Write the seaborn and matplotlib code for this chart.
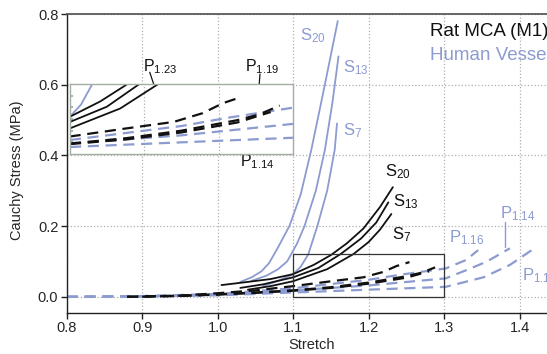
import matplotlib
matplotlib.use("Agg")
import matplotlib.pyplot as plt
import seaborn as sns
import pandas as pd

sns.set_theme(style="white")
plt.rcParams['font.family'] = ['Liberation Sans', 'DejaVu Sans']
plt.rcParams['mathtext.fontset'] = 'custom'
plt.rcParams['mathtext.rm'] = 'Liberation Sans'
plt.rcParams['mathtext.it'] = 'Liberation Sans'
plt.rcParams['mathtext.bf'] = 'Liberation Sans'

BLACK = '#111111'
BLUE = '#8c9bd0'

# ---- Human vessels, solid (S20, S13, S7)
hv_s20_x = [1.030, 1.045, 1.058, 1.068, 1.080, 1.095, 1.110, 1.124, 1.140, 1.159]
hv_s20_y = [0.042, 0.055, 0.072, 0.095, 0.140, 0.200, 0.290, 0.416, 0.580, 0.780]
hv_s13_x = [1.045, 1.065, 1.080, 1.092, 1.105, 1.115, 1.130, 1.142, 1.152, 1.160]
hv_s13_y = [0.045, 0.060, 0.078, 0.100, 0.150, 0.200, 0.300, 0.416, 0.550, 0.680]
hv_s7_x = [1.060, 1.080, 1.100, 1.110, 1.120, 1.132, 1.145, 1.155, 1.158]
hv_s7_y = [0.030, 0.045, 0.064, 0.085, 0.120, 0.200, 0.300, 0.416, 0.490]

# ---- Rat MCA, solid (S20, S13, S7)
rat_s20_x = [1.005, 1.040, 1.070, 1.100, 1.127, 1.150, 1.171, 1.193, 1.215, 1.232]
rat_s20_y = [0.033, 0.042, 0.050, 0.064, 0.090, 0.118, 0.151, 0.193, 0.254, 0.310]
rat_s13_x = [1.030, 1.060, 1.100, 1.133, 1.163, 1.190, 1.210, 1.226]
rat_s13_y = [0.025, 0.035, 0.055, 0.081, 0.121, 0.165, 0.210, 0.267]
rat_s7_x = [1.040, 1.070, 1.100, 1.145, 1.180, 1.200, 1.215, 1.230]
rat_s7_y = [0.020, 0.030, 0.044, 0.078, 0.121, 0.155, 0.190, 0.234]

# ---- Rat MCA, dashed (P1.23, P1.19, P1.14)
rat_p123_x = [0.900, 0.950, 1.000, 1.050, 1.100, 1.151, 1.193, 1.219, 1.237, 1.254]
rat_p123_y = [0.000, 0.003, 0.010, 0.018, 0.030, 0.044, 0.055, 0.070, 0.087, 0.098]
rat_p119_x = [0.880, 0.950, 1.000, 1.050, 1.100, 1.150, 1.200, 1.250, 1.270, 1.288]
rat_p119_y = [0.000, 0.003, 0.007, 0.012, 0.018, 0.027, 0.040, 0.058, 0.068, 0.083]
rat_p114_x = [0.880, 0.950, 1.000, 1.050, 1.100, 1.150, 1.200, 1.250, 1.280]
rat_p114_y = [0.000, 0.002, 0.006, 0.011, 0.017, 0.025, 0.037, 0.054, 0.072]

# ---- Human vessels, dashed (P1.16, P1.14, P1.1x)
hv_p116_x = [0.800, 0.900, 1.000, 1.100, 1.200, 1.241, 1.302, 1.329, 1.345]
hv_p116_y = [0.000, 0.002, 0.008, 0.024, 0.048, 0.062, 0.080, 0.104, 0.132]
hv_p114_x = [0.800, 0.900, 1.000, 1.100, 1.200, 1.302, 1.329, 1.356, 1.387]
hv_p114_y = [0.000, 0.001, 0.006, 0.018, 0.032, 0.052, 0.075, 0.099, 0.137]
hv_p11x_x = [0.800, 0.900, 1.000, 1.100, 1.200, 1.302, 1.352, 1.387, 1.416]
hv_p11x_y = [0.000, 0.001, 0.004, 0.012, 0.020, 0.028, 0.055, 0.090, 0.132]

x_ticks = [0.8, 0.9, 1.0, 1.1, 1.2, 1.3, 1.4]
y_ticks = [0.0, 0.2, 0.4, 0.6, 0.8]

curves = [
    (hv_s20_x, hv_s20_y, BLUE, '-'), (hv_s13_x, hv_s13_y, BLUE, '-'), (hv_s7_x, hv_s7_y, BLUE, '-'),
    (hv_p116_x, hv_p116_y, BLUE, '--'), (hv_p114_x, hv_p114_y, BLUE, '--'), (hv_p11x_x, hv_p11x_y, BLUE, '--'),
    (rat_s20_x, rat_s20_y, BLACK, '-'), (rat_s13_x, rat_s13_y, BLACK, '-'), (rat_s7_x, rat_s7_y, BLACK, '-'),
    (rat_p123_x, rat_p123_y, BLACK, '--'), (rat_p119_x, rat_p119_y, BLACK, '--'), (rat_p114_x, rat_p114_y, BLACK, '--'),
]

fig = plt.figure(figsize=(5.47, 3.54), dpi=100)
W, H = 547, 354
ax = fig.add_axes([66.7 / W, (H - 313) / H, 1 - 66.7 / W, (313 - 14) / H])


def draw(axis, lw_solid=1.3, lw_dash=1.6):
    for xs, ys, col, ls in curves:
        df = pd.DataFrame({'x': xs, 'y': ys})
        if ls == '-':
            sns.lineplot(data=df, x='x', y='y', ax=axis, color=col, sort=False,
                         estimator=None, linewidth=lw_solid, legend=False)
        else:
            sns.lineplot(data=df, x='x', y='y', ax=axis, color=col, sort=False,
                         estimator=None, linewidth=lw_dash, linestyle=(0, (5, 3)), legend=False)


draw(ax)
ax.set_xlim(0.8, 0.8 + (W - 66.7) / 755)
ax.set_ylim(-0.046, 0.8)
ax.set_xticks(x_ticks)
ax.set_yticks(y_ticks)
ax.set_xticklabels([f"{v:.1f}" for v in x_ticks])
ax.set_yticklabels([f"{v:.1f}" for v in y_ticks])
ax.grid(True, linestyle=':', color='#b0b0b0', linewidth=0.9)
for s in ['left', 'bottom']:
    ax.spines[s].set_color('#222222')
    ax.spines[s].set_linewidth(1.0)
ax.spines['top'].set_color('#555555')
ax.spines['right'].set_visible(False)
ax.tick_params(axis='both', which='major', direction='out', length=4, width=1,
               color='#222222', labelsize=10.5, bottom=True, left=True, pad=2)
ax.set_xlabel('Stretch', fontsize=10.5)
ax.set_ylabel('Cauchy Stress (MPa)', fontsize=10.5)
ax.xaxis.set_label_coords(0.51, -0.082)
ax.yaxis.set_label_coords(-0.088, 0.478)

# zoom rectangle
ax.add_patch(plt.Rectangle((1.1, 0.0), 0.2, 0.122, fill=False, edgecolor='#333333', linewidth=0.9, zorder=5))

# curve labels
def lab(axis, x, y, txt, col, fs=12):
    axis.text(x, y, txt, color=col, fontsize=fs, va='center', ha='left')

lab(ax, 1.109, 0.738, r'$\mathregular{S_{20}}$', BLUE)
lab(ax, 1.166, 0.649, r'$\mathregular{S_{13}}$', BLUE)
lab(ax, 1.166, 0.47, r'$\mathregular{S_{7}}$', BLUE)
lab(ax, 1.222, 0.355, r'$\mathregular{S_{20}}$', BLACK)
lab(ax, 1.232, 0.268, r'$\mathregular{S_{13}}$', BLACK)
lab(ax, 1.231, 0.177, r'$\mathregular{S_{7}}$', BLACK)
lab(ax, 1.306, 0.166, r'$\mathregular{P_{1.16}}$', BLUE)
lab(ax, 1.374, 0.234, r'$\mathregular{P_{1.14}}$', BLUE)
lab(ax, 1.403, 0.061, r'$\mathregular{P_{1.12}}$', BLUE)
ax.plot([1.38, 1.38], [0.212, 0.142], color=BLUE, linewidth=1.0)

# inset labels (placed in main axes coordinates, around the inset)
lab(ax, 0.901, 0.652, r'$\mathregular{P_{1.23}}$', BLACK, 11.5)
lab(ax, 1.036, 0.652, r'$\mathregular{P_{1.19}}$', BLACK, 11.5)
lab(ax, 1.030, 0.383, r'$\mathregular{P_{1.14}}$', BLACK, 11.5)

# legend text (cut by the right edge, as in the reference)
fig.text(430 / W, 1 - 31 / H, 'Rat MCA (M1)', color=BLACK, fontsize=13.5, va='center', ha='left')
fig.text(430 / W, 1 - 55 / H, 'Human Vessels', color=BLUE, fontsize=13.5, va='center', ha='left')

# inset
ins = fig.add_axes([70 / W, (H - 154) / H, 223 / W, 70 / H])
ins.set_facecolor('white')
draw(ins, lw_solid=1.3, lw_dash=1.6)
ins.set_xlim(1.1, 1.3)
ins.set_ylim(0.0, 0.12)
ins.set_xticks([1.1 + 0.2 / 3, 1.1 + 0.4 / 3])
ins.set_yticks([0.02, 0.04, 0.06, 0.08, 0.10])
ins.tick_params(axis='y', direction='in', length=2, color='#a0a8a0', labelleft=False, left=True)
ins.tick_params(axis='x', length=0, labelbottom=False)
ins.grid(True, axis='x', linestyle=':', color='#b0b0b0', linewidth=0.9)
ins.set_xlabel('')
ins.set_ylabel('')
for s in ins.spines.values():
    s.set_color('#a3aea3')
    s.set_linewidth(1.0)

# pointer lines for inset labels (main axes coordinates)
ax.plot([0.910, 0.932], [0.635, 0.494], color=BLACK, linewidth=0.9, zorder=10)
ax.plot([1.056, 1.052], [0.630, 0.520], color=BLACK, linewidth=0.9, zorder=10)
ax.plot([1.063, 1.073], [0.402, 0.470], color=BLACK, linewidth=0.9, zorder=10)

fig.savefig('out.png', dpi=100)
